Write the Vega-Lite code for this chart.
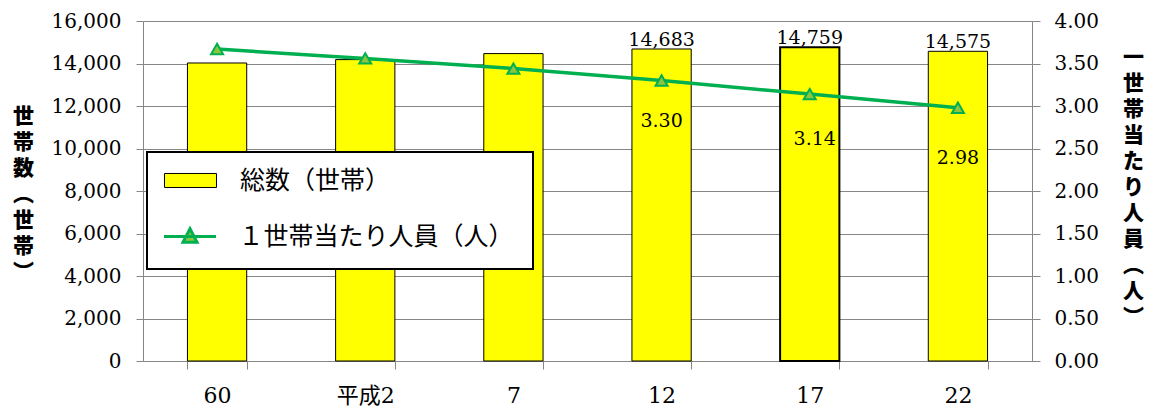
{
  "$schema": "https://vega.github.io/schema/vega-lite/v6.json",
  "width": 889,
  "height": 340,
  "autosize": {"type": "none"},
  "padding": {"left": 143, "top": 21, "right": 121, "bottom": 49},
  "background": "white",
  "data": {
    "values": [
      {"year": "60", "households": 14024, "persons": 3.67},
      {"year": "平成2", "households": 14183, "persons": 3.56},
      {"year": "7", "households": 14466, "persons": 3.44},
      {"year": "12", "households": 14683, "persons": 3.30},
      {"year": "17", "households": 14759, "persons": 3.14},
      {"year": "22", "households": 14575, "persons": 2.98}
    ]
  },
  "config": {
    "view": {"stroke": null},
    "legend": {"strokeWidth": 2},
    "axis": {
      "domainColor": "#868686",
      "tickColor": "#868686",
      "gridColor": "#868686",
      "labelColor": "#000000",
      "titleColor": "#000000",
      "domainWidth": 1,
      "tickWidth": 1,
      "gridWidth": 1
    }
  },
  "layer": [
    {
      "layer": [
        {
          "mark": {"type": "bar", "stroke": "#000000"},
          "encoding": {
            "x": {
              "field": "year", "type": "nominal", "sort": null,
              "scale": {"paddingInner": 0.6, "paddingOuter": 0.3},
              "axis": {
                "title": null, "labelAngle": 0,
                "labelFont": "DejaVu Serif, Noto Sans CJK JP", "labelFontSize": 22,
                "tickBand": "extent", "tickSize": 8, "labelPadding": 16, "grid": false
              }
            },
            "y": {
              "field": "households", "type": "quantitative",
              "scale": {"domain": [0, 16000], "nice": false},
              "axis": {
                "title": ["世", "帯", "数", "︵", "世", "帯", "︶"],
                "titleAngle": 0, "titleAlign": "center", "titleBaseline": "top",
                "titleX": -120, "titleY": 84, "titleLineHeight": 26,
                "titleFont": "Noto Sans CJK JP", "titleFontSize": 21, "titleFontWeight": 900,
                "values": [0, 2000, 4000, 6000, 8000, 10000, 12000, 14000, 16000],
                "format": ",d", "grid": true, "tickSize": 7, "labelPadding": 15,
                "labelFont": "DejaVu Serif", "labelFontSize": 20
              }
            },
            "strokeWidth": {
              "condition": {"test": "datum.year === '17'", "value": 2},
              "value": 1
            },
            "fill": {
              "datum": "総数（世帯）", "type": "nominal",
              "scale": {"domain": ["総数（世帯）"], "range": ["#FFFF00"]},
              "legend": {
                "title": "　", "titleOrient": "bottom", "titleAnchor": "start",
                "titleFontSize": 20, "titlePadding": 38,
                "orient": "none", "legendX": 4, "legendY": 131,
                "direction": "vertical", "fillColor": "white", "strokeColor": "#000000",
                "padding": 2, "symbolSize": 2704, "symbolStrokeWidth": 1,
                "symbolType": "M0,-1M0,1M13,0M-1,-0.27H1V0.27H-1Z",
                "symbolStrokeColor": "#000000", "symbolOpacity": 1,
                "symbolOffset": 15, "labelOffset": 23,
                "labelFont": "Noto Sans CJK JP", "labelFontSize": 25, "labelColor": "#000000",
                "labelLimit": 500
              }
            }
          }
        },
        {
          "transform": [{"filter": {"field": "year", "oneOf": ["12", "17", "22"]}}],
          "mark": {"type": "text", "baseline": "alphabetic", "dy": -3, "font": "DejaVu Serif", "fontSize": 19, "color": "#000000"},
          "encoding": {
            "x": {"field": "year", "type": "nominal", "sort": null},
            "y": {"field": "households", "type": "quantitative"},
            "text": {"field": "households", "type": "quantitative", "format": ","}
          }
        }
      ]
    },
    {
      "layer": [
        {
          "mark": {"type": "line", "strokeWidth": 3.5},
          "encoding": {
            "x": {"field": "year", "type": "nominal", "sort": null},
            "y": {
              "field": "persons", "type": "quantitative",
              "scale": {"domain": [0, 4], "nice": false},
              "axis": {
                "orient": "right",
                "title": ["一", "世", "帯", "当", "た", "り", "人", "員", "︵", "人", "︶"],
                "titleAngle": 0, "titleAlign": "center", "titleBaseline": "top",
                "titleX": 101, "titleY": 25, "titleLineHeight": 26,
                "titleFont": "Noto Sans CJK JP", "titleFontSize": 21, "titleFontWeight": 900,
                "values": [0, 0.5, 1, 1.5, 2, 2.5, 3, 3.5, 4],
                "format": ".2f", "grid": false, "tickSize": 8, "labelPadding": 14,
                "labelFont": "DejaVu Serif", "labelFontSize": 20
              }
            },
            "stroke": {
              "datum": "１世帯当たり人員（人）", "type": "nominal",
              "scale": {"domain": ["１世帯当たり人員（人）"], "range": ["#00B050"]},
              "legend": {
                "title": null, "orient": "none", "legendX": 6, "legendY": 188,
                "direction": "vertical", "padding": 0,
                "symbolSize": 2704, "symbolStrokeWidth": 3,
                "symbolType": "M0,-1M0,1M-1,0H1M0,-0.3L0.27,0.22H-0.27Z",
                "symbolFillColor": "#8CC63F", "symbolOpacity": 1,
                "symbolOffset": 13.5, "labelOffset": 21,
                "labelFont": "Noto Sans CJK JP", "labelFontSize": 25, "labelColor": "#000000",
                "labelLimit": 500
              }
            }
          }
        },
        {
          "mark": {"type": "point", "shape": "triangle-up", "size": 144, "filled": true, "fill": "#8CC63F", "stroke": "#00B050", "strokeWidth": 2, "opacity": 1},
          "encoding": {
            "x": {"field": "year", "type": "nominal", "sort": null},
            "y": {"field": "persons", "type": "quantitative"}
          }
        },
        {
          "transform": [{"filter": "datum.year === '12'"}],
          "mark": {"type": "text", "dy": 40, "font": "DejaVu Serif", "fontSize": 19, "color": "#000000"},
          "encoding": {
            "x": {"field": "year", "type": "nominal", "sort": null},
            "y": {"field": "persons", "type": "quantitative"},
            "text": {"field": "persons", "type": "quantitative", "format": ".2f"}
          }
        },
        {
          "transform": [{"filter": "datum.year === '17'"}],
          "mark": {"type": "text", "dy": 45, "dx": 5, "font": "DejaVu Serif", "fontSize": 19, "color": "#000000"},
          "encoding": {
            "x": {"field": "year", "type": "nominal", "sort": null},
            "y": {"field": "persons", "type": "quantitative"},
            "text": {"field": "persons", "type": "quantitative", "format": ".2f"}
          }
        },
        {
          "transform": [{"filter": "datum.year === '22'"}],
          "mark": {"type": "text", "dy": 50, "font": "DejaVu Serif", "fontSize": 19, "color": "#000000"},
          "encoding": {
            "x": {"field": "year", "type": "nominal", "sort": null},
            "y": {"field": "persons", "type": "quantitative"},
            "text": {"field": "persons", "type": "quantitative", "format": ".2f"}
          }
        }
      ]
    }
  ],
  "resolve": {"scale": {"y": "independent"}}
}
